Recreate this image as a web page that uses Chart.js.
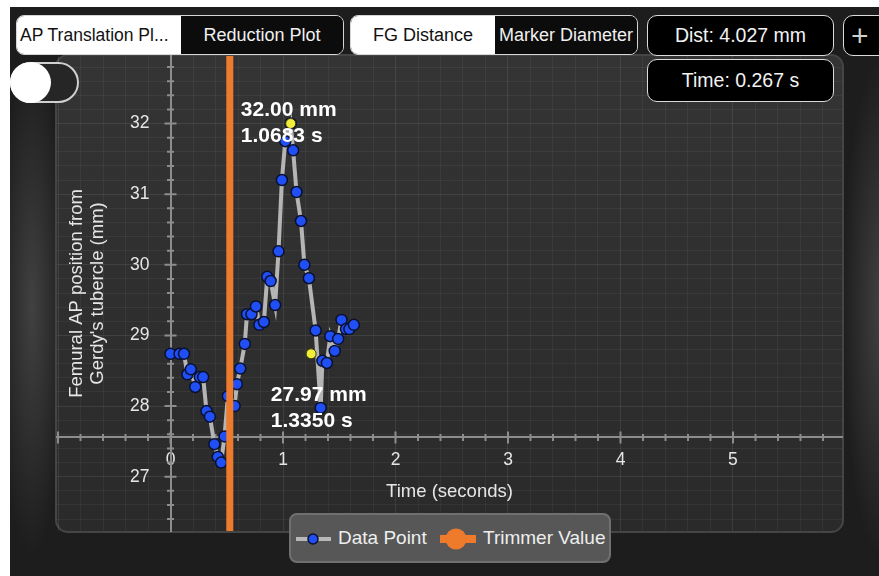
<!DOCTYPE html>
<html>
<head>
<meta charset="utf-8">
<script src="https://cdn.jsdelivr.net/npm/chart.js@4.4.0/dist/chart.umd.min.js"></script>
<style>
  html, body { margin: 0; padding: 0; }
  body {
    width: 879px; height: 576px; overflow: hidden; position: relative;
    background: #ffffff;
    font-family: 'Liberation Sans', Arial, Helvetica, sans-serif;
  }
  #panel {
    position: absolute; left: 10px; top: 7px; right: 0; bottom: 0;
    background:
      radial-gradient(ellipse 34px 250px at 22px 300px, rgba(95, 95, 95, 0.55), rgba(95, 95, 95, 0) 100%),
      radial-gradient(ellipse 40px 250px at 872px 300px, rgba(95, 95, 95, 0.55), rgba(95, 95, 95, 0) 100%),
      #1d1d1d;
  }
  #chart { position: absolute; left: 0; top: 0; }
  .seg {
    position: absolute; top: 15px; height: 40px; box-sizing: border-box;
    border: 1.5px solid #d6d6d6; border-radius: 8px; overflow: hidden; display: flex;
    font-size: 18px;
  }
  .seg div { display: flex; align-items: center; justify-content: center; white-space: nowrap; }
  .seg .on { background: #ffffff; color: #111; }
  .seg .off { background: #0c0c0c; color: #f0f0f0; }
  .box {
    position: absolute; box-sizing: border-box; background: #000;
    border: 1.5px solid #dcdcdc; border-radius: 10px; color: #f2f2f2;
    display: flex; align-items: center; justify-content: center; font-size: 19.5px;
  }
  #toggle {
    position: absolute; left: 10px; top: 62px; width: 69px; height: 41px; box-sizing: border-box;
    border: 2px solid #d0d0d0; border-radius: 21px; background: #262626;
  }
  #knob {
    position: absolute; left: 10px; top: 62px; width: 41px; height: 41px; border-radius: 50%;
    background: #ffffff;
  }
  #legend {
    position: absolute; left: 289px; top: 513px; width: 322px; height: 50px; box-sizing: border-box;
    background: #575757; border: 2px solid #707070; border-radius: 8px;
    color: #eeeeee; font-size: 19px;
  }
  #legend span { position: absolute; top: 12px; }
</style>
</head>
<body>
<div id="panel"></div>
<canvas id="chart" width="879" height="576"></canvas>

<div class="seg" style="left:16px; width:328px;">
  <div class="on" style="width:161px; justify-content:flex-start; padding-left:3px; font-size:17.5px;">AP Translation Pl...</div>
  <div class="off" style="flex:1;">Reduction Plot</div>
</div>
<div class="seg" style="left:350px; width:288px;">
  <div class="on" style="width:144px;">FG Distance</div>
  <div class="off" style="flex:1;">Marker Diameter</div>
</div>
<div class="box" id="distBox" style="left:647px; top:15px; width:187px; height:41px;"></div>
<div class="box" id="timeBox" style="left:647px; top:59px; width:187px; height:43px;"></div>
<div class="box" style="left:843px; top:15px; width:60px; height:41px; justify-content:flex-start; padding-left:7px; font-size:30px; font-weight:300; color:#cfcfcf;">+</div>
<div id="toggle"></div>
<div id="knob"></div>

<div id="legend">
  <svg width="322" height="46" style="position:absolute;left:0;top:0">
    <line x1="5" y1="24" x2="40" y2="24" stroke="#b8b8b8" stroke-width="4"/>
    <circle cx="22" cy="24" r="5" fill="#1f4ff5" stroke="#0a1030" stroke-width="1.5"/>
    <line x1="149" y1="24" x2="185" y2="24" stroke="#ee7a2c" stroke-width="8"/>
    <circle cx="165" cy="24" r="10.5" fill="#ee7a2c"/>
  </svg>
  <span id="lg1" style="left:47px;"></span>
  <span id="lg2" style="left:192px;"></span>
</div>

<script>
// AP position of the femur over time
const timeSec = [0.00, 0.08, 0.12, 0.15, 0.18, 0.22, 0.26, 0.29, 0.32, 0.35,
                 0.39, 0.42, 0.45, 0.48, 0.51, 0.57, 0.59, 0.62, 0.66, 0.68,
                 0.72, 0.76, 0.79, 0.83, 0.86, 0.89, 0.93, 0.96, 0.99, 1.02,
                 1.0683, 1.09, 1.12, 1.16, 1.19, 1.23, 1.29, 1.3350, 1.35, 1.39,
                 1.42, 1.46, 1.49, 1.52, 1.56, 1.59, 1.63];
const apPosMm = [28.74, 28.74, 28.74, 28.45, 28.52, 28.27, 28.41, 28.41, 27.93, 27.85,
                 27.46, 27.28, 27.20, 27.57, 28.14, 28.00, 28.31, 28.53, 28.88, 29.30,
                 29.30, 29.41, 29.15, 29.19, 29.83, 29.77, 29.43, 30.19, 31.20, 31.75,
                 32.00, 31.62, 31.03, 30.62, 30.00, 29.81, 29.07, 27.973, 28.64, 28.61,
                 28.99, 28.78, 28.95, 29.22, 29.09, 29.09, 29.15];

// highlighted (yellow) points
const markTimeSec = [1.0683, 1.25];
const markPosMm = [32.00, 28.74];

// trimmer position
const trimmerSec = 0.527;

// axes
const xRange = [-1.009, 5.969];
const yRange = [26.231, 32.956];
const xAxisAtMm = 27.555;
const yAxisAtSec = 0;
const xTitle = 'Time (seconds)';
const yTitle = ['Femural AP position from', "Gerdy's tubercle (mm)"];
const seriesLabels = ['Data Point', 'Trimmer Value'];

const FONT = "'Liberation Sans', Arial, Helvetica, sans-serif";
const axisColor = '#8d8d8d';
const textColor = '#e6e6e6';

// peak, then the lowest point after the peak
let iMax = 0;
apPosMm.forEach((v, i) => { if (v > apPosMm[iMax]) iMax = i; });
let iMin = iMax;
for (let i = iMax; i < apPosMm.length; i++) {
    if (apPosMm[i] < apPosMm[iMin]) iMin = i;
}
document.getElementById('distBox').textContent = 'Dist: ' + (apPosMm[iMax] - apPosMm[iMin]).toFixed(3) + ' mm';
document.getElementById('timeBox').textContent = 'Time: ' + (timeSec[iMin] - timeSec[iMax]).toFixed(3) + ' s';
document.getElementById('lg1').textContent = seriesLabels[0];
document.getElementById('lg2').textContent = seriesLabels[1];

const isWhole = v => Math.abs(v - Math.round(v)) < 1e-6;

function roundRectPath(ctx, x, y, w, h, r) {
    ctx.beginPath();
    ctx.moveTo(x + r, y);
    ctx.arcTo(x + w, y, x + w, y + h, r);
    ctx.arcTo(x + w, y + h, x, y + h, r);
    ctx.arcTo(x, y + h, x, y, r);
    ctx.arcTo(x, y, x + w, y, r);
    ctx.closePath();
}

// rounded plot background
const plotFrame = {
    id: 'plotFrame',
    beforeDraw(chart) {
        const {ctx, chartArea: a} = chart;
        ctx.save();
        const g = ctx.createLinearGradient(0, a.top, 0, a.bottom);
        g.addColorStop(0, '#343434');
        g.addColorStop(1, '#2a2a2a');
        roundRectPath(ctx, a.left - 1, a.top - 1, a.width + 2, a.height + 2, 12);
        ctx.fillStyle = g;
        ctx.fill();
        ctx.lineWidth = 2;
        ctx.strokeStyle = '#454545';
        ctx.stroke();
        ctx.restore();
    }
};

// tick marks crossing the axes, y labels and axis titles
const axisDecor = {
    id: 'axisDecor',
    beforeDatasetsDraw(chart) {
        const {ctx, chartArea: a, scales: {x, y}} = chart;
        const ax = x.getPixelForValue(yAxisAtSec);
        const ay = y.getPixelForValue(xAxisAtMm);
        ctx.save();
        ctx.strokeStyle = axisColor;
        ctx.lineWidth = 2;
        ctx.beginPath();
        x.ticks.forEach(t => {
            const px = x.getPixelForValue(t.value);
            const len = isWhole(t.value) ? 6 : 3.5;
            ctx.moveTo(px, ay - len);
            ctx.lineTo(px, ay + len);
        });
        y.ticks.forEach(t => {
            const py = y.getPixelForValue(t.value);
            const len = isWhole(t.value) ? 6 : 3.5;
            ctx.moveTo(ax - len, py);
            ctx.lineTo(ax + len, py);
        });
        ctx.stroke();

        ctx.fillStyle = textColor;
        ctx.font = '17.5px ' + FONT;
        ctx.textAlign = 'right';
        ctx.textBaseline = 'middle';
        y.ticks.filter(t => isWhole(t.value)).forEach(t => {
            ctx.fillText(String(Math.round(t.value)), ax - 21, y.getPixelForValue(t.value));
        });

        ctx.font = '18.5px ' + FONT;
        ctx.textAlign = 'center';
        ctx.fillText(xTitle, (a.left + a.right) / 2, 492);
        ctx.translate(88, (a.top + a.bottom) / 2);
        ctx.rotate(-Math.PI / 2);
        ctx.fillText(yTitle[0], 0, -11);
        ctx.fillText(yTitle[1], 0, 10);
        ctx.restore();
    }
};

// value labels at the peak and the following trough
const extremeLabels = {
    id: 'extremeLabels',
    afterDatasetsDraw(chart) {
        const {ctx, scales: {x, y}} = chart;
        ctx.save();
        ctx.fillStyle = '#ffffff';
        ctx.font = 'bold 21px ' + FONT;
        ctx.textAlign = 'left';
        ctx.textBaseline = 'middle';
        [iMax, iMin].forEach(i => {
            const lines = [apPosMm[i].toFixed(2) + ' mm', timeSec[i].toFixed(4) + ' s'];
            const w = Math.max(...lines.map(s => ctx.measureText(s).width));
            const px = x.getPixelForValue(timeSec[i]);
            const py = y.getPixelForValue(apPosMm[i]);
            ctx.fillText(lines[0], px - w / 2 - 2, py - 13);
            ctx.fillText(lines[1], px - w / 2 - 2, py + 13);
        });
        ctx.restore();
    }
};

const gridColor = c => isWhole(c.tick.value) ? 'rgba(255,255,255,0.085)' : 'rgba(255,255,255,0.05)';

const ctx = document.getElementById('chart').getContext('2d');
const chart = new Chart(ctx, {
    type: 'line',
    data: {
        datasets: [{
            label: seriesLabels[1],
            data: [{x: trimmerSec, y: yRange[0]}, {x: trimmerSec, y: yRange[1]}],
            borderColor: '#ee7a2c',
            borderWidth: 7,
            pointRadius: 0,
            order: 0
        }, {
            label: 'Highlight',
            data: markTimeSec.map((t, i) => ({x: t, y: markPosMm[i]})),
            showLine: false,
            pointRadius: 5,
            pointBackgroundColor: '#f1ee3a',
            pointBorderColor: '#3a3a10',
            pointBorderWidth: 1,
            order: 1
        }, {
            label: seriesLabels[0],
            data: timeSec.map((t, i) => ({x: t, y: apPosMm[i]})),
            borderColor: '#b5b5b5',
            borderWidth: 4,
            pointRadius: 5.5,
            pointBackgroundColor: '#1f4ff5',
            pointBorderColor: '#0a1030',
            pointBorderWidth: 1.5,
            order: 2
        }]
    },
    options: {
        responsive: false,
        animation: false,
        layout: {
            padding: {left: 57, top: 56, right: 37, bottom: 45}
        },
        scales: {
            x: {
                type: 'linear',
                position: {y: xAxisAtMm},
                min: xRange[0],
                max: xRange[1],
                grid: {color: gridColor, lineWidth: 1, drawTicks: false},
                border: {display: true, color: axisColor, width: 2},
                ticks: {
                    stepSize: 0.2,
                    includeBounds: false,
                    autoSkip: false,
                    maxRotation: 0,
                    padding: 12,
                    color: textColor,
                    font: {family: FONT, size: 17.5},
                    callback: v => (isWhole(v) && v >= 0 && v <= 5) ? String(Math.round(v)) : ''
                }
            },
            y: {
                type: 'linear',
                position: {x: yAxisAtSec},
                min: yRange[0],
                max: yRange[1],
                grid: {color: gridColor, lineWidth: 1, drawTicks: false},
                border: {display: true, color: axisColor, width: 2},
                ticks: {
                    stepSize: 0.2,
                    includeBounds: false,
                    autoSkip: false,
                    display: false
                }
            }
        },
        plugins: {
            legend: {display: false},
            tooltip: {enabled: false}
        }
    },
    plugins: [plotFrame, axisDecor, extremeLabels]
});
</script>
</body>
</html>
